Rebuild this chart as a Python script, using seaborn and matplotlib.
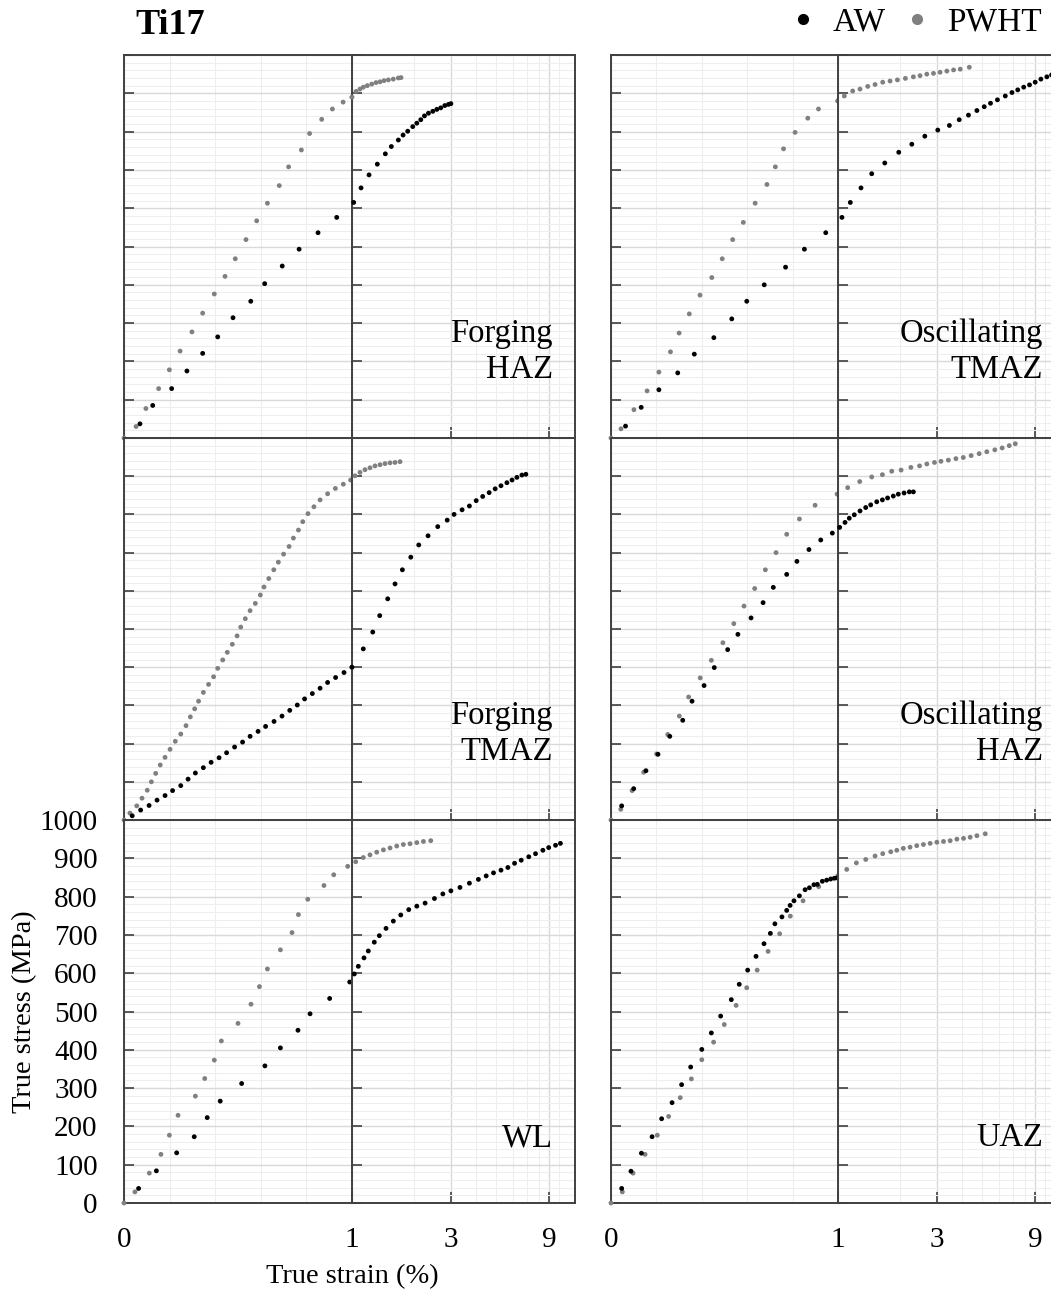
import numpy as np
import pandas as pd
import matplotlib
matplotlib.use("Agg")
import matplotlib.pyplot as plt
from matplotlib.lines import Line2D
from matplotlib.ticker import NullFormatter
import seaborn as sns

sns.set_theme(style="white")
plt.rcParams["font.family"] = ["Liberation Serif", "DejaVu Serif"]
plt.rcParams["text.color"] = "black"

# --- Data: true strain (%) and true stress (MPa) ---
forging_haz_pwht_strain = [0, 0.053, 0.096, 0.152, 0.199, 0.246, 0.298, 0.345, 0.396, 0.443, 0.488, 0.535,
                           0.582, 0.629, 0.681, 0.722, 0.778, 0.814, 0.867, 0.914, 0.961, 1.0, 1.046, 1.093,
                           1.134, 1.186, 1.246, 1.307, 1.367, 1.429, 1.50, 1.584, 1.676, 1.727]
forging_haz_pwht_stress = [0, 30, 77, 129, 178, 227, 277, 326, 376, 422, 468, 518, 567, 613, 659, 708, 752,
                           795, 832, 859, 877, 890, 905, 911, 916, 920, 924, 928, 930, 933, 935, 937, 940, 941]
forging_haz_aw_strain = [0.070, 0.126, 0.209, 0.276, 0.345, 0.411, 0.478, 0.556, 0.617, 0.694, 0.768, 0.851,
                         0.933, 1.019, 1.106, 1.209, 1.326, 1.450, 1.550, 1.676, 1.767, 1.860, 1.968, 2.059,
                         2.152, 2.242, 2.344, 2.461, 2.573, 2.689, 2.812, 2.93, 3.01]
forging_haz_aw_stress = [37, 85, 129, 175, 221, 264, 314, 357, 403, 449, 493, 536, 576, 615, 653, 687, 715,
                         742, 761, 778, 791, 801, 813, 822, 831, 841, 848, 853, 858, 862, 868, 871, 873]

osc_tmaz_pwht_strain = [0, 0.044, 0.101, 0.159, 0.211, 0.262, 0.300, 0.345, 0.392, 0.444, 0.490, 0.536, 0.583,
                        0.635, 0.687, 0.724, 0.760, 0.811, 0.867, 0.914, 0.998, 1.073, 1.178, 1.278, 1.393,
                        1.511, 1.646, 1.786, 1.939, 2.119, 2.316, 2.495, 2.689, 2.898, 3.119, 3.363, 3.625,
                        3.904, 4.32]
osc_tmaz_pwht_stress = [0, 24, 74, 123, 172, 225, 274, 324, 373, 419, 468, 518, 563, 613, 662, 708, 755, 798,
                        835, 859, 880, 893, 906, 911, 918, 923, 929, 932, 935, 939, 943, 946, 950, 952, 955,
                        958, 961, 963, 968]
osc_tmaz_aw_strain = [0.064, 0.133, 0.211, 0.294, 0.367, 0.453, 0.532, 0.598, 0.675, 0.769, 0.852, 0.946,
                      1.045, 1.147, 1.292, 1.456, 1.684, 1.968, 2.276, 2.631, 3.04, 3.46, 3.86, 4.28, 4.70,
                      5.10, 5.47, 5.91, 6.45, 6.95, 7.41, 7.92, 8.45, 9.0, 9.59, 10.25, 10.8]
osc_tmaz_aw_stress = [31, 80, 126, 170, 219, 262, 311, 357, 400, 446, 493, 536, 576, 615, 653, 690, 718, 746,
                      767, 788, 804, 816, 831, 843, 855, 865, 874, 883, 893, 902, 909, 916, 922, 929, 937,
                      943, 948]

forging_tmaz_pwht_strain = [0, 0.026, 0.056, 0.079, 0.102, 0.120, 0.139, 0.159, 0.180, 0.202, 0.225, 0.249,
                            0.272, 0.291, 0.310, 0.327, 0.348, 0.371, 0.393, 0.411, 0.433, 0.453, 0.475,
                            0.496, 0.512, 0.532, 0.553, 0.576, 0.598, 0.614, 0.635, 0.657, 0.677, 0.700,
                            0.724, 0.743, 0.765, 0.784, 0.807, 0.833, 0.860, 0.893, 0.927, 0.962, 0.994,
                            1.034, 1.093, 1.156, 1.222, 1.292, 1.367, 1.445, 1.528, 1.615, 1.708]
forging_tmaz_pwht_stress = [0, 18, 37, 57, 78, 100, 122, 144, 164, 185, 206, 225, 247, 270, 291, 311, 334,
                            355, 375, 397, 419, 439, 460, 482, 505, 527, 548, 567, 589, 610, 632, 655, 675,
                            696, 716, 738, 759, 781, 802, 820, 838, 854, 868, 879, 890, 901, 910, 917, 922,
                            927, 930, 933, 935, 936, 938]
forging_tmaz_aw_strain = [0.036, 0.073, 0.110, 0.145, 0.180, 0.213, 0.249, 0.281, 0.313, 0.348, 0.382, 0.417,
                          0.450, 0.485, 0.520, 0.553, 0.588, 0.621, 0.658, 0.693, 0.727, 0.760, 0.792, 0.826,
                          0.860, 0.893, 0.928, 0.965, 1.0, 1.134, 1.260, 1.362, 1.489, 1.615, 1.753, 1.925,
                          2.104, 2.334, 2.600, 2.889, 3.119, 3.41, 3.70, 3.99, 4.29, 4.61, 4.93, 5.26, 5.62,
                          5.95, 6.28, 6.64, 6.94]
forging_tmaz_aw_stress = [11, 26, 38, 52, 64, 77, 90, 107, 123, 137, 151, 163, 176, 191, 204, 219, 232, 245,
                          258, 272, 287, 301, 317, 331, 345, 360, 373, 386, 400, 448, 492, 535, 579, 618,
                          655, 688, 720, 744, 768, 785, 800, 812, 822, 836, 847, 857, 867, 875, 883, 890,
                          897, 903, 905]

osc_haz_pwht_strain = [0, 0.043, 0.093, 0.144, 0.201, 0.250, 0.301, 0.342, 0.393, 0.442, 0.493, 0.541, 0.586,
                       0.633, 0.680, 0.727, 0.774, 0.830, 0.899, 0.996, 1.114, 1.274, 1.456, 1.640, 1.820,
                       2.020, 2.253, 2.481, 2.691, 2.93, 3.15, 3.42, 3.72, 4.04, 4.41, 4.82, 5.25, 5.74,
                       6.23, 6.74, 7.21]
osc_haz_pwht_stress = [0, 28, 77, 125, 173, 224, 272, 322, 372, 418, 464, 514, 560, 606, 655, 700, 748, 788,
                       824, 853, 870, 886, 898, 904, 913, 916, 923, 927, 932, 936, 939, 942, 946, 949, 954,
                       959, 964, 969, 974, 980, 985]
osc_haz_aw_strain = [0.047, 0.100, 0.154, 0.207, 0.259, 0.316, 0.357, 0.410, 0.455, 0.514, 0.559, 0.617,
                     0.670, 0.715, 0.774, 0.819, 0.872, 0.924, 0.975, 1.019, 1.081, 1.134, 1.199, 1.278,
                     1.362, 1.440, 1.540, 1.640, 1.738, 1.852, 1.958, 2.088, 2.214, 2.316]
osc_haz_aw_stress = [37, 82, 129, 172, 219, 261, 311, 352, 399, 446, 486, 529, 569, 609, 643, 677, 708, 733,
                     751, 766, 779, 790, 799, 809, 818, 825, 833, 838, 843, 848, 853, 856, 859, 859]

wl_pwht_strain = [0, 0.048, 0.111, 0.162, 0.199, 0.237, 0.313, 0.354, 0.396, 0.427, 0.500, 0.557, 0.594,
                  0.629, 0.686, 0.737, 0.765, 0.806, 0.877, 0.920, 0.981, 1.042, 1.134, 1.222, 1.317, 1.419,
                  1.528, 1.646, 1.772, 1.909, 2.059, 2.216, 2.405]
wl_pwht_stress = [0, 29, 78, 127, 177, 229, 279, 325, 373, 423, 469, 519, 565, 611, 661, 706, 753, 793, 829,
                  857, 879, 891, 902, 909, 916, 922, 927, 932, 936, 938, 941, 944, 946]
wl_aw_strain = [0.064, 0.142, 0.231, 0.308, 0.365, 0.422, 0.516, 0.618, 0.686, 0.763, 0.816, 0.902, 0.990,
                1.026, 1.073, 1.143, 1.199, 1.282, 1.356, 1.461, 1.585, 1.722, 1.882, 2.059, 2.258, 2.506,
                2.752, 3.01, 3.33, 3.70, 4.09, 4.46, 4.84, 5.26, 5.68, 6.12, 6.59, 7.17, 7.73, 8.39, 8.95,
                9.66, 10.2]
wl_aw_stress = [38, 84, 131, 173, 223, 266, 312, 358, 405, 451, 494, 534, 577, 598, 618, 640, 658, 681, 698,
                717, 736, 752, 766, 775, 783, 795, 807, 815, 824, 835, 845, 854, 862, 869, 876, 887, 895,
                904, 912, 921, 928, 934, 939]

uaz_pwht_strain = [0, 0.050, 0.097, 0.150, 0.204, 0.254, 0.305, 0.354, 0.400, 0.452, 0.499, 0.551, 0.598,
                   0.644, 0.692, 0.743, 0.790, 0.846, 0.915, 0.999, 1.102, 1.227, 1.362, 1.511, 1.646, 1.800,
                   1.925, 2.071, 2.232, 2.405, 2.591, 2.792, 3.01, 3.24, 3.49, 3.76, 4.05, 4.36, 4.70, 5.16]
uaz_pwht_stress = [0, 29, 78, 127, 177, 226, 275, 324, 374, 420, 466, 516, 562, 608, 657, 703, 749, 789, 826,
                   854, 871, 888, 897, 906, 912, 917, 921, 926, 929, 933, 936, 939, 942, 944, 946, 950, 952,
                   955, 959, 964]
uaz_aw_strain = [0.047, 0.088, 0.134, 0.181, 0.223, 0.269, 0.311, 0.351, 0.400, 0.442, 0.483, 0.530, 0.565,
                 0.602, 0.639, 0.674, 0.702, 0.722, 0.753, 0.774, 0.789, 0.806, 0.830, 0.855, 0.874, 0.894,
                 0.909, 0.931, 0.950, 0.968, 0.984, 0.997]
uaz_aw_stress = [38, 83, 130, 173, 220, 262, 309, 355, 401, 444, 488, 531, 571, 608, 644, 677, 704, 729, 747,
                 764, 777, 789, 802, 818, 823, 831, 832, 840, 843, 846, 848, 849]

panel_labels = ["Forging\nHAZ", "Oscillating\nTMAZ", "Forging\nTMAZ", "Oscillating\nHAZ", "WL", "UAZ"]
panel_data = [
    (forging_haz_aw_strain, forging_haz_aw_stress, forging_haz_pwht_strain, forging_haz_pwht_stress),
    (osc_tmaz_aw_strain, osc_tmaz_aw_stress, osc_tmaz_pwht_strain, osc_tmaz_pwht_stress),
    (forging_tmaz_aw_strain, forging_tmaz_aw_stress, forging_tmaz_pwht_strain, forging_tmaz_pwht_stress),
    (osc_haz_aw_strain, osc_haz_aw_stress, osc_haz_pwht_strain, osc_haz_pwht_stress),
    (wl_aw_strain, wl_aw_stress, wl_pwht_strain, wl_pwht_stress),
    (uaz_aw_strain, uaz_aw_stress, uaz_pwht_strain, uaz_pwht_stress),
]
y_ticks = np.arange(0, 1001, 100)
log_ticks = [1, 3, 9]

# --- Layout (pixels) ---
W, H = 1051, 1295
COLS = [(124, 352, 575), (611, 838, 1061)]
ROWS = [(55, 438), (438, 820), (820, 1203)]
SPINE = "#404040"
palette = {"PWHT": "#808080", "AW": "black"}

fig = plt.figure(figsize=(W / 100, H / 100), dpi=100)


def add_ax(x0, x1, ytop, ybot):
    return fig.add_axes([x0 / W, 1 - ybot / H, (x1 - x0) / W, (ybot - ytop) / H])


def style(ax, is_log, show_x, show_y):
    ax.set_ylim(0, 1000)
    ax.set_yticks(y_ticks)
    ax.set_yticks(np.arange(0, 1001, 20), minor=True)
    if is_log:
        ax.set_xscale("log")
        ax.set_xlim(1, 12)
        ax.set_xticks(log_ticks, labels=[str(t) for t in log_ticks])
        ax.set_xticks([2, 4, 5, 6, 7, 8, 10], minor=True)
        ax.xaxis.set_minor_formatter(NullFormatter())
    else:
        ax.set_xlim(0, 1)
        ax.set_xticks([0, 1], labels=["0", ""])
        ax.set_xticks([0.2, 0.4, 0.6, 0.8], minor=True)
    ax.grid(which="major", color="#d9d9d9", lw=1.0)
    ax.grid(which="minor", color="#eeeeee", lw=0.8)
    ax.set_axisbelow(True)
    ax.tick_params(axis="y", which="major", direction="in", length=7, width=1.2, color=SPINE,
                   left=True, right=False, labelleft=show_y, pad=19, labelsize=21, labelcolor="black")
    ax.tick_params(axis="x", which="major", direction="in", length=8 if is_log else 0, width=1.2,
                   color=SPINE, bottom=True, top=False, labelbottom=show_x, pad=17, labelsize=21,
                   labelcolor="black")
    ax.tick_params(which="minor", length=0)
    for sp in ax.spines.values():
        sp.set_color(SPINE)
        sp.set_linewidth(1.4)
    if not is_log:
        ax.spines["right"].set_visible(False)
    ax.set_xlabel("")
    ax.set_ylabel("")


for i, (label, (aw_x, aw_y, pw_x, pw_y)) in enumerate(zip(panel_labels, panel_data)):
    r, c = divmod(i, 2)
    x0, xm, x1 = COLS[c]
    ytop, ybot = ROWS[r]
    ax_lin = add_ax(x0, xm, ytop, ybot)
    ax_log = add_ax(xm, x1, ytop, ybot)

    df = pd.concat([
        pd.DataFrame({"strain": pw_x, "stress": pw_y, "cond": "PWHT"}),
        pd.DataFrame({"strain": aw_x, "stress": aw_y, "cond": "AW"}),
    ], ignore_index=True)

    sns.scatterplot(data=df[df.strain <= 1], x="strain", y="stress", hue="cond", palette=palette,
                    s=12, linewidth=0, legend=False, ax=ax_lin, clip_on=False, zorder=3)
    sns.scatterplot(data=df[df.strain >= 1], x="strain", y="stress", hue="cond", palette=palette,
                    s=12, linewidth=0, legend=False, ax=ax_log, clip_on=False, zorder=3)

    style(ax_lin, False, r == 2, r == 2 and c == 0)
    style(ax_log, True, r == 2, False)

    xr = (553 if c == 0 else 1043) - xm
    yfrac = 0.225 if "\n" in label else 0.17
    ax_log.text(xr / (x1 - xm), yfrac, label, transform=ax_log.transAxes, ha="right", va="center",
                multialignment="right", fontsize=23.5, linespacing=1.25, color="black")

fig.text(135 / W, 1 - 25 / H, "Ti17", fontsize=26, fontweight="bold", va="center", ha="left")
fig.text(25 / W, 1 - 1012 / H, "True stress (MPa)", fontsize=20.5, rotation=90, va="center", ha="center")
fig.text(352 / W, 1 - 1277 / H, "True strain (%)", fontsize=20.5, va="center", ha="center")

handles = [Line2D([], [], marker="o", ls="", color=palette[k], markersize=7, label=k) for k in ["AW", "PWHT"]]
fig.legend(handles=handles, loc="center right", bbox_to_anchor=(1042 / W, 1 - 22 / H), ncol=2,
           frameon=False, fontsize=24, handletextpad=0.4, columnspacing=0.45, handlelength=1.0,
           borderpad=0, borderaxespad=0)

fig.savefig("out.png", dpi=100)
